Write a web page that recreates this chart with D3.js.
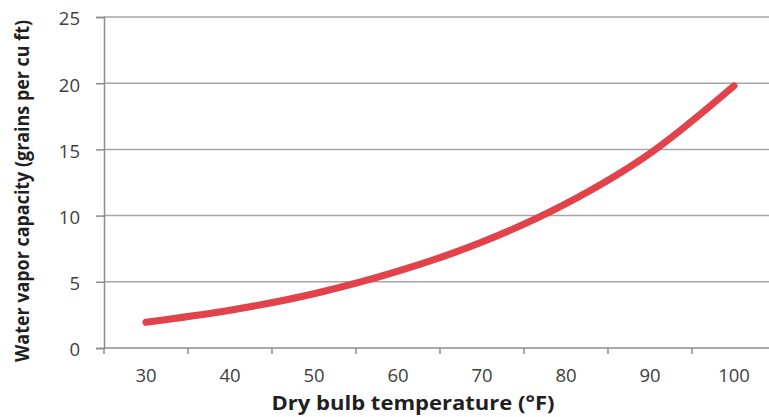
<!DOCTYPE html>
<html>
<head>
<meta charset="utf-8">
<script src="https://cdn.jsdelivr.net/npm/d3@7"></script>
<style>
  html, body { margin: 0; padding: 0; background: #fff; }
  svg { display: block; font-family: "Open Sans", Lato, sans-serif; }
</style>
</head>
<body>
<svg id="chart" width="769" height="417"></svg>
<script>
// data
const temperatures = [30, 40, 50, 60, 70, 80, 90, 100];
const capacity = [1.95, 2.85, 4.1, 5.8, 8.0, 10.9, 14.7, 19.8];
const yTicks = [0, 5, 10, 15, 20, 25];
const xTitle = 'Dry bulb temperature (°F)';
const yTitle = 'Water vapor capacity (grains per cu ft)';

const svg = d3.select('#chart');
const plotLeft = 104;
const plotTop = 17;
const plotBottom = 348;
const bandWidth = 84;

const x = d3.scaleBand()
  .domain(temperatures)
  .range([plotLeft, plotLeft + bandWidth * temperatures.length])
  .padding(0);

const y = d3.scaleLinear()
  .domain([0, 25])
  .range([plotBottom, plotTop]);

// horizontal gridlines
svg.append('g')
  .selectAll('line')
  .data(yTicks.filter((d) => d > 0))
  .join('line')
  .attr('x1', plotLeft)
  .attr('x2', 769)
  .attr('y1', (d) => y(d))
  .attr('y2', (d) => y(d))
  .attr('stroke', '#a6a6a6')
  .attr('stroke-width', 1.5);

// y axis
const yAxis = svg.append('g')
  .attr('transform', `translate(${plotLeft},0)`)
  .call(d3.axisLeft(y).tickValues(yTicks).tickSize(8).tickPadding(16));
yAxis.select('.domain').attr('stroke', '#8c8c8c').attr('stroke-width', 1.5);
yAxis.selectAll('.tick line').attr('stroke', '#8c8c8c').attr('stroke-width', 1.5);
yAxis.selectAll('.tick text')
  .attr('fill', '#404040')
  .attr('y', 2)
  .style('font-size', '18.5px')
  .style('font-family', '"Open Sans", sans-serif');

// x axis: ticks sit between categories, labels at centers
const xAxis = svg.append('g')
  .attr('transform', `translate(0,${plotBottom})`)
  .call(d3.axisBottom(x).tickSize(0).tickPadding(21));
xAxis.select('.domain').remove();
xAxis.append('line')
  .attr('x1', plotLeft)
  .attr('x2', 769)
  .attr('stroke', '#8c8c8c')
  .attr('stroke-width', 1.5);
xAxis.selectAll('.edge')
  .data(temperatures)
  .join('line')
  .attr('class', 'edge')
  .attr('x1', (d) => x(d))
  .attr('x2', (d) => x(d))
  .attr('y1', 0)
  .attr('y2', 6)
  .attr('stroke', '#8c8c8c')
  .attr('stroke-width', 1.5);
xAxis.selectAll('.tick text')
  .attr('fill', '#404040')
  .style('font-size', '18.5px')
  .style('font-family', '"Open Sans", sans-serif');

// curve
const line = d3.line()
  .x((d, i) => x(temperatures[i]) + x.bandwidth() / 2)
  .y((d) => y(d))
  .curve(d3.curveMonotoneX);

svg.append('path')
  .datum(capacity)
  .attr('d', line)
  .attr('fill', 'none')
  .attr('stroke', '#e2434b')
  .attr('stroke-width', 7)
  .attr('stroke-linecap', 'round');

// axis titles
svg.append('text')
  .attr('x', 413)
  .attr('y', 410)
  .attr('text-anchor', 'middle')
  .attr('fill', '#1f1f1f')
  .attr('textLength', 283)
  .attr('lengthAdjust', 'spacingAndGlyphs')
  .style('font-size', '20px')
  .style('font-weight', 'bold')
  .text(xTitle);

// the original title is narrow and tall, so squeeze it along its length
svg.append('text')
  .attr('transform', 'translate(29,191) rotate(-90) scale(1,1.25)')
  .attr('text-anchor', 'middle')
  .attr('fill', '#1f1f1f')
  .attr('textLength', 342)
  .attr('lengthAdjust', 'spacingAndGlyphs')
  .style('font-size', '16px')
  .style('font-weight', 'bold')
  .text(yTitle);
</script>
</body>
</html>
